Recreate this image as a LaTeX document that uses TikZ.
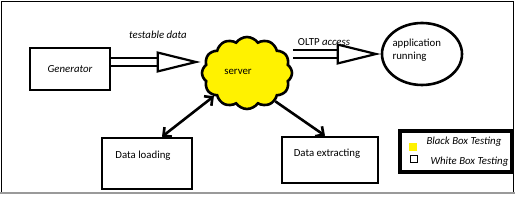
\documentclass[tikz,border=0pt]{standalone}
\usepackage{fontspec}
\setmainfont{Carlito}
\usetikzlibrary{arrows.meta,positioning,calc,shapes.symbols,shapes.geometric}
\definecolor{ink}{HTML}{000000}
\definecolor{sun}{HTML}{FFF200}
\definecolor{rim}{HTML}{9A9A9A}

\begin{document}
\begin{tikzpicture}[
    x=1pt, y=-1pt,
    font=\fontsize{10.8}{13}\selectfont,
    box/.style={draw=ink, line width=2.6pt, minimum width=#1},
    fatarrow/.style={draw=ink, line width=2.2pt, double=white, double distance=6pt,
      -{Triangle[open, length=44pt, width=21pt, line width=2.2pt]}},
    thinarrow/.style={draw=ink, line width=2.6pt, -{Straight Barb[length=6pt, width=12pt]}}
  ]
    \useasboundingbox (0,0) rectangle (515,200);
    % frame
    \draw[ink, line width=1pt] (1,193) -- (1,2) -- (513,2) -- (513,193);
    \draw[rim, line width=2pt] (0,193.5) -- (515,193.5);

    \node[box=80pt, minimum height=42pt] (gen) at (70,69) {\itshape Generator};
    \node[cloud, cloud puffs=12, cloud puff arc=110, draw=ink, line width=2.6pt,
      fill=sun, minimum width=90pt, minimum height=72pt] (server) at (247,73) {};
    \node (servertxt) at (238,72) {server};
    \node[ellipse, draw=ink, line width=2.6pt, minimum width=80pt, minimum height=62pt] (app) at (422,54) {};
    \node[align=left, anchor=west] (apptxt) at (389,50) {application\\running};
    \node[box=90pt, minimum height=51pt] (load) at (147,163.5) {};
    \node (loadtxt) at (143,156) {Data loading};
    \node[box=96pt, minimum height=46pt] (ext) at (330,160) {};
    \node (exttxt) at (327,154) {Data extracting};

    \node (testable) at (158,35) {\itshape testable data};
    \node (oltp) at (324,42) {OLTP \itshape access};

    \draw[fatarrow] ([yshift=7pt]gen.east) -- ([yshift=7pt]gen.east -| server.west);
    \draw[fatarrow] (app.west -| server.east) -- (app.west);
    \draw[thinarrow, {Straight Barb[length=6pt, width=12pt]}-{Straight Barb[length=6pt, width=12pt]}]
      ([xshift=15pt]load.north) -- (server.215);
    \draw[thinarrow] (server.-45) -- ([xshift=-5pt]ext.north);

    % legend
    \node[draw=ink, line width=4.5pt, minimum width=112pt, minimum height=41pt] (legend) at (456,151.5) {};
    \node[draw=sun, fill=sun, minimum size=7pt, inner sep=0pt] (blackkey) at (413,146.5) {};
    \node[draw=ink, line width=0.7pt, fill=white, minimum size=7pt, inner sep=0pt] (whitekey) at (414,159) {};
    \node[anchor=west] (blacktxt) at (423,142) {\itshape Black Box Testing};
    \node[anchor=west] (whitetxt) at (427,162) {\itshape White Box Testing};
  \end{tikzpicture}
\end{document}
